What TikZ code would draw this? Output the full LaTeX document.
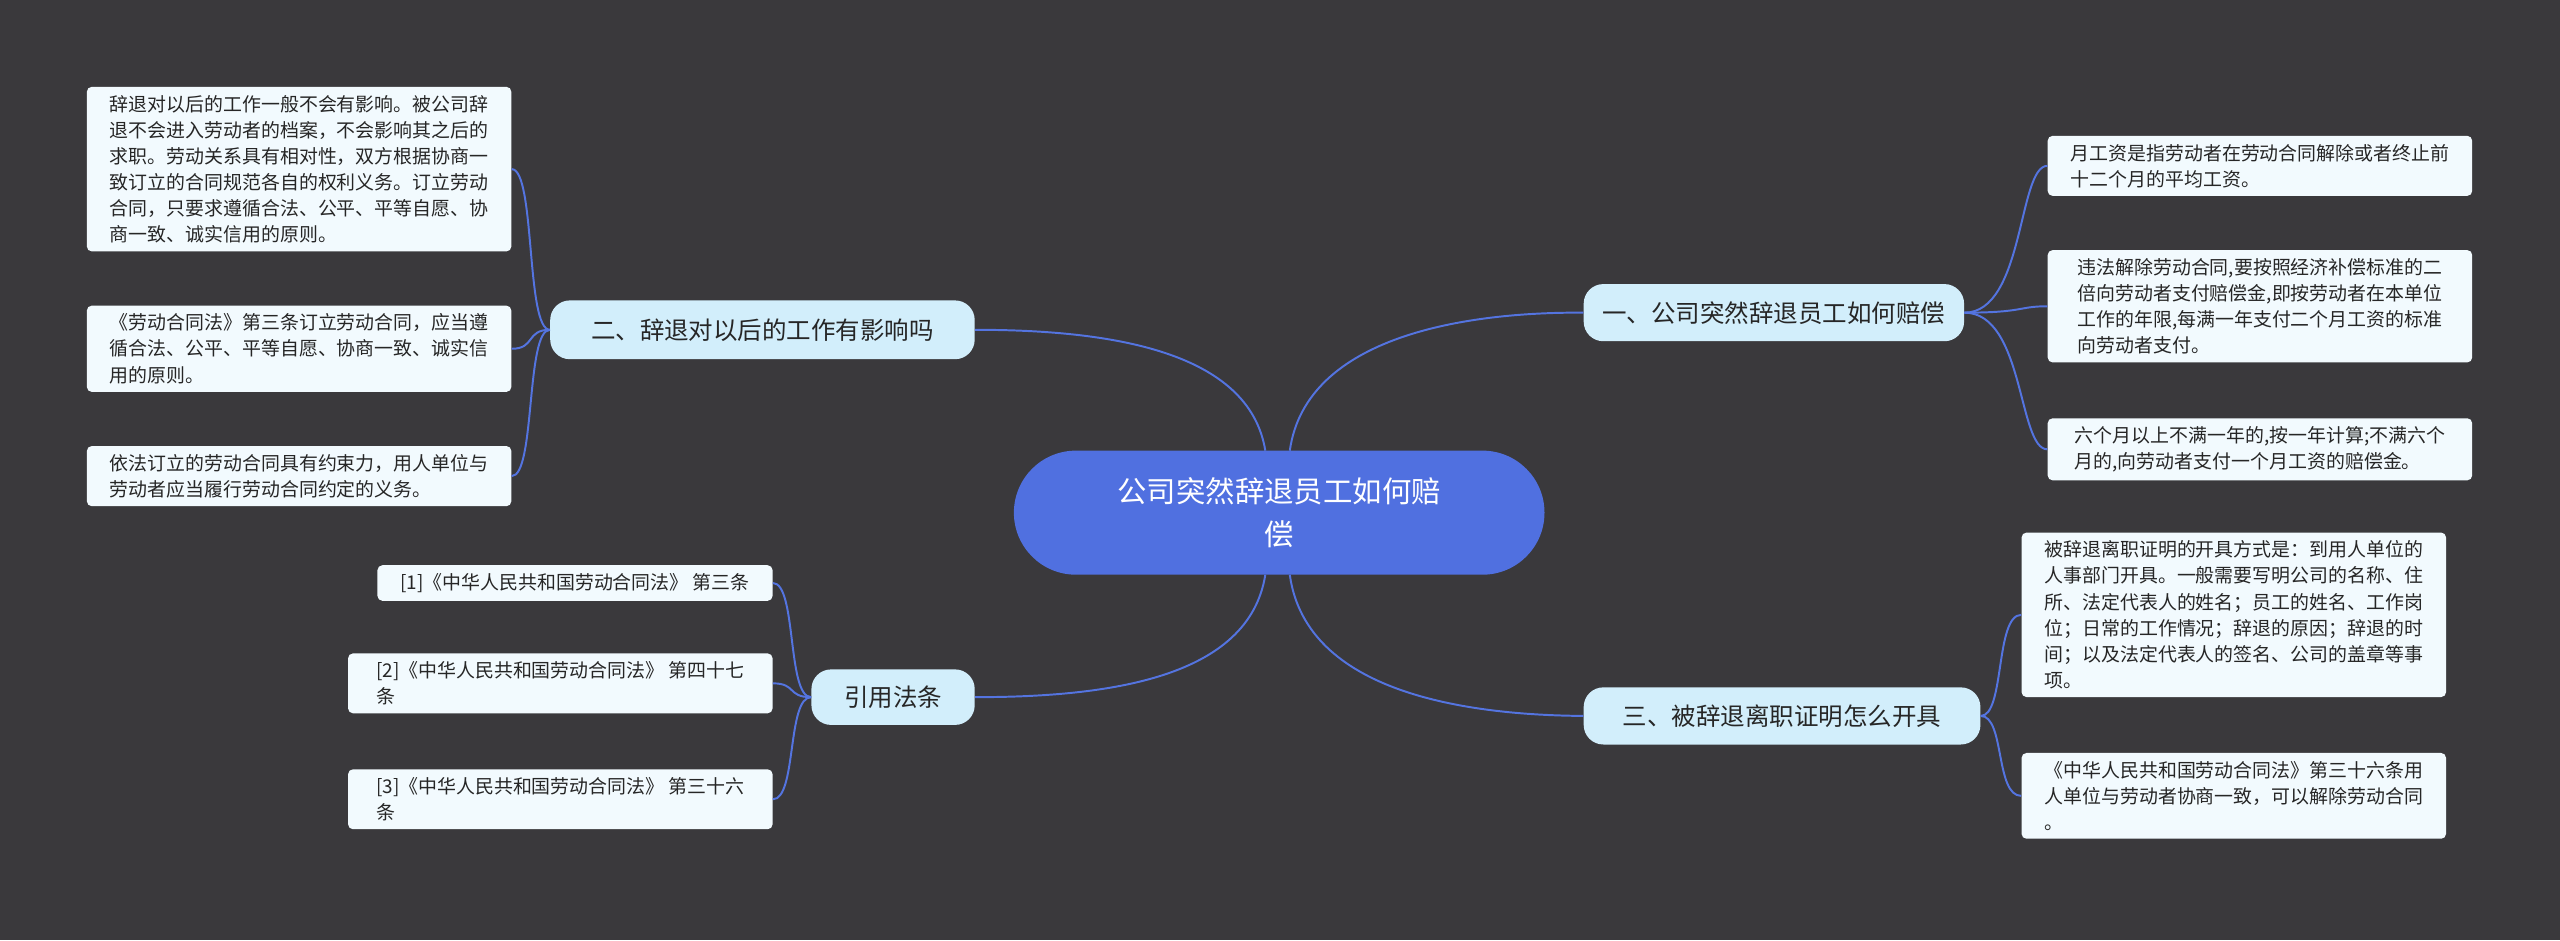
\documentclass[tikz,border=0pt]{standalone}
\usepackage{fontspec}
\setmainfont{Noto Sans CJK SC}
\begin{document}
\begin{tikzpicture}[x=1pt,y=-1pt,
 leaf/.style={draw=none,fill=leafc,rounded corners=3pt,align=left,inner sep=5pt,font=\fontsize{11.6}{16}\selectfont,text=black!85,anchor=north west},
 branch/.style={fill=brc,rounded corners=12pt,inner sep=0pt,font=\fontsize{15}{18}\selectfont,text=black!85},
 conn/.style={draw=linec,line width=1.2pt}]
\definecolor{bgc}{HTML}{3A393C}
\definecolor{leafc}{HTML}{F2FAFE}
\definecolor{brc}{HTML}{D2EEFB}
\definecolor{linec}{HTML}{5474E0}
\definecolor{cenc}{HTML}{5070E0}
\fill[bgc] (0,0) rectangle (1568,576);
\useasboundingbox (0,0) rectangle (1568,576);
\coordinate (xa) at (1236,0);
\coordinate (xb) at (1222,0);
\coordinate (xc) at (328,0);
\coordinate (xd) at (488,0);
\node[fill=cenc,rounded corners=38pt,minimum width=325pt,minimum height=76pt,text=white,align=center,font=\fontsize{18}{26}\selectfont] (c) at (783.5,314) {公司突然辞退员工如何赔\\偿};
\node[branch,minimum width=233pt,minimum height=35pt] (b1) at (1086.5,191.5) {一、公司突然辞退员工如何赔偿};
\node[branch,minimum width=243pt,minimum height=35pt] (b3) at (1091.5,438.5) {三、被辞退离职证明怎么开具};
\node[branch,minimum width=260pt,minimum height=36pt] (b2) at (467,202) {二、辞退对以后的工作有影响吗};
\node[branch,minimum width=100pt,minimum height=34pt] (b4) at (547,427) {引用法条};
\node[leaf,minimum width=260pt] (r1) at (1254,83) {月工资是指劳动者在劳动合同解除或者终止前\\十二个月的平均工资。};
\node[leaf,minimum width=260pt] (r2) at (1254,153) {违法解除劳动合同,要按照经济补偿标准的二\\倍向劳动者支付赔偿金,即按劳动者在本单位\\工作的年限,每满一年支付二个月工资的标准\\向劳动者支付。};
\node[leaf,minimum width=260pt] (r3) at (1254,256) {六个月以上不满一年的,按一年计算;不满六个\\月的,向劳动者支付一个月工资的赔偿金。};
\node[leaf,minimum width=260pt] (r4) at (1238,326) {被辞退离职证明的开具方式是：到用人单位的\\人事部门开具。一般需要写明公司的名称、住\\所、法定代表人的姓名；员工的姓名、工作岗\\位；日常的工作情况；辞退的原因；辞退的时\\间；以及法定代表人的签名、公司的盖章等事\\项。};
\node[leaf,minimum width=260pt] (r5) at (1238,461) {《中华人民共和国劳动合同法》第三十六条用\\人单位与劳动者协商一致，可以解除劳动合同\\。};
\node[leaf,minimum width=260pt] (l1) at (53,53) {辞退对以后的工作一般不会有影响。被公司辞\\退不会进入劳动者的档案，不会影响其之后的\\求职。劳动关系具有相对性，双方根据协商一\\致订立的合同规范各自的权利义务。订立劳动\\合同，只要求遵循合法、公平、平等自愿、协\\商一致、诚实信用的原则。};
\node[leaf,minimum width=260pt] (l2) at (53,187) {《劳动合同法》第三条订立劳动合同，应当遵\\循合法、公平、平等自愿、协商一致、诚实信\\用的原则。};
\node[leaf,minimum width=260pt] (l3) at (53,273) {依法订立的劳动合同具有约束力，用人单位与\\劳动者应当履行劳动合同约定的义务。};
\node[leaf,minimum width=242pt] (f1) at (231,346) {[1]《中华人民共和国劳动合同法》 第三条};
\node[leaf,minimum width=260pt] (f2) at (213,400) {[2]《中华人民共和国劳动合同法》 第四十七\\条};
\node[leaf,minimum width=260pt] (f3) at (213,471) {[3]《中华人民共和国劳动合同法》 第三十六\\条};
% main connectors
\draw[conn] (790,276) .. controls (800,205) and (900,191) .. (b1.west);
\draw[conn] (790,352) .. controls (800,425) and (900,438) .. (b3.west);
\draw[conn] (775,276) .. controls (765,215) and (680,202) .. (b2.east);
\draw[conn] (775,352) .. controls (765,415) and (680,427) .. (b4.east);
% leaf connectors
\foreach \l in {r1,r2,r3}
  \draw[conn] (b1.east) .. controls (1240,191.5) and (\l.west -| xa) .. (\l.west);
\foreach \l in {r4,r5}
  \draw[conn] (b3.east) .. controls (1228,438.5) and (\l.west -| xb) .. (\l.west);
\foreach \l in {l1,l2,l3}
  \draw[conn] (b2.west) .. controls (322,202) and (\l.east -| xc) .. (\l.east);
\foreach \l in {f1,f2,f3}
  \draw[conn] (b4.west) .. controls (482,427) and (\l.east -| xd) .. (\l.east);
\end{tikzpicture}
\end{document}
